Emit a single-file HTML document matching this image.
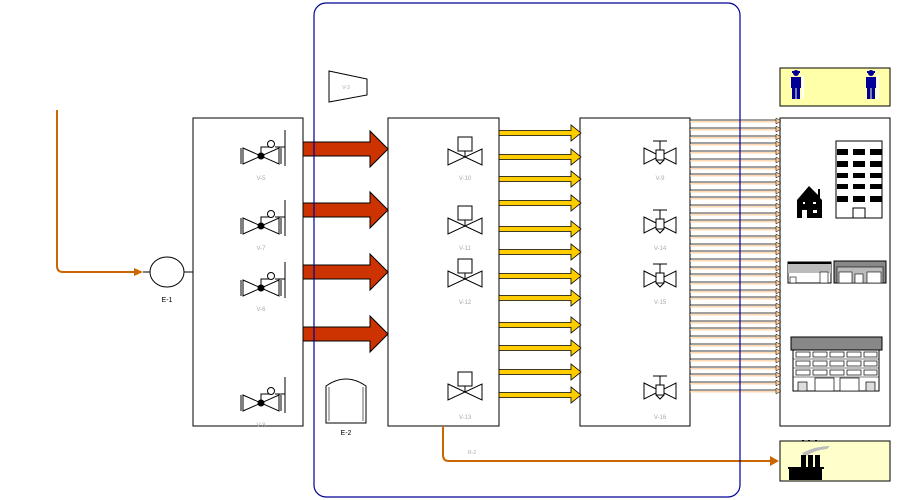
<!DOCTYPE html>
<html><head><meta charset="utf-8"><style>
html,body{margin:0;padding:0;background:#fff;}
svg{display:block;}
text{font-family:"Liberation Sans",sans-serif;}
</style></head><body>
<svg width="908" height="500" viewBox="0 0 908 500" xmlns="http://www.w3.org/2000/svg">
<defs>
  <g id="va">
    <path d="M-18,-8 L18,8 L18,-8 L-18,8 Z" fill="#fff" stroke="#000" stroke-width="1"/>
    <line x1="-20" y1="-8" x2="-20" y2="8" stroke="#000"/>
    <line x1="20" y1="-8" x2="20" y2="8" stroke="#000"/>
    <circle cx="0" cy="0" r="3.5" fill="#000"/>
    <polyline points="0,0 0,-9 10,-9" fill="none" stroke="#000"/>
    <circle cx="10" cy="-12" r="3.5" fill="#fff" stroke="#000"/>
    <line x1="14" y1="-9" x2="24" y2="-9" stroke="#000"/>
    <line x1="24" y1="-26" x2="24" y2="10" stroke="#000"/>
  </g>
  <g id="vb">
    <path d="M-17,-8 L17,8 L17,-8 L-17,8 Z" fill="#fff" stroke="#000"/>
    <line x1="0" y1="0" x2="0" y2="-6" stroke="#000"/>
    <rect x="-7" y="-20" width="14" height="14" fill="#fff" stroke="#000"/>
  </g>
  <g id="vc">
    <path d="M-16,-8 L16,8 L16,-8 L-16,8 Z" fill="#fff" stroke="#000"/>
    <rect x="-4" y="-6" width="8" height="10" fill="#fff" stroke="#000"/>
    <path d="M-4,4 L0,8 L4,4" fill="none" stroke="#000"/>
    <line x1="0" y1="-6" x2="0" y2="-15" stroke="#000"/>
    <line x1="-7" y1="-15" x2="7" y2="-15" stroke="#000"/>
  </g>
  <g id="ra">
    <path d="M303,-7 L370,-7 L370,-18 L388,0 L370,18 L370,7 L303,7 Z" fill="#cc3300" stroke="#000"/>
  </g>
  <g id="ya">
    <path d="M499,-2.5 L571,-2.5 L571,-8 L581,0 L571,8 L571,2.5 L499,2.5 Z" fill="#ffcc00" stroke="#000" stroke-width="0.8"/>
  </g>
  <g id="pl">
    <line x1="690" y1="0" x2="778" y2="0" stroke="#000" stroke-width="0.8"/>
    <line x1="690" y1="1.8" x2="778" y2="1.8" stroke="#ffcc99" stroke-width="1.2"/>
    <path d="M776,-2 L781,1 L776,4 Z" fill="#ffcc99" stroke="#000" stroke-width="0.5"/>
  </g>
  <g id="person">
    <circle cx="0" cy="-16" r="3" fill="#000099"/>
    <rect x="-4" y="-18" width="8" height="2" fill="#000099"/>
    <rect x="-5" y="-12" width="10" height="11" fill="#000099"/>
    <rect x="-4" y="-1" width="3.5" height="11" fill="#000099"/>
    <rect x="0.5" y="-1" width="3.5" height="11" fill="#000099"/>
    <rect x="6" y="-14" width="2" height="24" fill="#fff"/>
  </g>
</defs>

<!-- left orange feed -->
<path d="M57,110 L57,266 Q57,272 63,272 L136,272" fill="none" stroke="#cc6600" stroke-width="2"/>
<path d="M134,268 L143,272 L134,276 Z" fill="#cc6600"/>
<line x1="143" y1="272" x2="150" y2="272" stroke="#000"/>
<ellipse cx="167" cy="272" rx="17" ry="15" fill="#fff" stroke="#000"/>
<line x1="184" y1="272" x2="193" y2="272" stroke="#000"/>
<text x="167" y="302" font-size="7" text-anchor="middle" fill="#000">E-1</text>

<!-- boxes -->
<rect x="193" y="118" width="110" height="308" fill="#fff" stroke="#000"/>
<rect x="388" y="118" width="111" height="308" fill="#fff" stroke="#000"/>
<rect x="580" y="118" width="110" height="308" fill="#fff" stroke="#000"/>
<rect x="780" y="118" width="110" height="308" fill="#fff" stroke="#000"/>
<rect x="780" y="68" width="110" height="38" fill="#ffffaa" stroke="#000"/>
<rect x="780" y="441" width="110" height="40" fill="#ffffcc" stroke="#000"/>

<!-- red arrows -->
<use href="#ra" transform="translate(0,149)"/>
<use href="#ra" transform="translate(0,210)"/>
<use href="#ra" transform="translate(0,272)"/>
<use href="#ra" transform="translate(0,334)"/>

<!-- valves box A -->
<use href="#va" transform="translate(261,156)"/>
<use href="#va" transform="translate(261,226)"/>
<use href="#va" transform="translate(261,288)"/>
<use href="#va" transform="translate(261,403)"/>
<g font-size="6" fill="#aaa" text-anchor="middle">
<text x="261" y="180">V-5</text><text x="261" y="250">V-7</text><text x="261" y="311">V-6</text><text x="261" y="427">V-8</text>
</g>

<!-- V-3 -->
<path d="M329,71 L367,79 L367,95 L329,102 Z" fill="#fff" stroke="#000"/>
<text x="346" y="89" font-size="5" fill="#aaa" text-anchor="middle">V-3</text>

<!-- E-2 tank -->
<path d="M326,423 L326,386 Q346,372 366,386 L366,423 Z" fill="#fff" stroke="#000"/>
<line x1="329" y1="387" x2="329" y2="421" stroke="#000" stroke-width="0.6"/>
<line x1="363" y1="387" x2="363" y2="421" stroke="#000" stroke-width="0.6"/>
<text x="346" y="435" font-size="7" text-anchor="middle" fill="#000">E-2</text>

<!-- valves box B -->
<use href="#vb" transform="translate(465,157)"/>
<use href="#vb" transform="translate(465,226)"/>
<use href="#vb" transform="translate(465,279)"/>
<use href="#vb" transform="translate(465,392)"/>
<g font-size="6" fill="#aaa" text-anchor="middle">
<text x="465" y="180">V-10</text><text x="465" y="250">V-11</text><text x="465" y="304">V-12</text><text x="465" y="419">V-13</text>
</g>

<!-- yellow arrows -->
<use href="#ya" transform="translate(0,133)"/>
<use href="#ya" transform="translate(0,157)"/>
<use href="#ya" transform="translate(0,179)"/>
<use href="#ya" transform="translate(0,203)"/>
<use href="#ya" transform="translate(0,229)"/>
<use href="#ya" transform="translate(0,252)"/>
<use href="#ya" transform="translate(0,276)"/>
<use href="#ya" transform="translate(0,298)"/>
<use href="#ya" transform="translate(0,325)"/>
<use href="#ya" transform="translate(0,348)"/>
<use href="#ya" transform="translate(0,372)"/>
<use href="#ya" transform="translate(0,395)"/>

<!-- valves box C -->
<use href="#vc" transform="translate(660,156)"/>
<use href="#vc" transform="translate(660,225)"/>
<use href="#vc" transform="translate(660,279)"/>
<use href="#vc" transform="translate(660,391)"/>
<g font-size="6" fill="#aaa" text-anchor="middle">
<text x="660" y="180">V-9</text><text x="660" y="250">V-14</text><text x="660" y="304">V-15</text><text x="660" y="419">V-16</text>
</g>

<!-- thin line bundle -->
<use href="#pl" transform="translate(0,120)"/><use href="#pl" transform="translate(0,128)"/>
<use href="#pl" transform="translate(0,136)"/><use href="#pl" transform="translate(0,143)"/>
<use href="#pl" transform="translate(0,151)"/><use href="#pl" transform="translate(0,159)"/>
<use href="#pl" transform="translate(0,167)"/><use href="#pl" transform="translate(0,174)"/>
<use href="#pl" transform="translate(0,182)"/><use href="#pl" transform="translate(0,190)"/>
<use href="#pl" transform="translate(0,197)"/><use href="#pl" transform="translate(0,205)"/>
<use href="#pl" transform="translate(0,213)"/><use href="#pl" transform="translate(0,220)"/>
<use href="#pl" transform="translate(0,228)"/><use href="#pl" transform="translate(0,236)"/>
<use href="#pl" transform="translate(0,244)"/><use href="#pl" transform="translate(0,251)"/>
<use href="#pl" transform="translate(0,259)"/><use href="#pl" transform="translate(0,267)"/>
<use href="#pl" transform="translate(0,274)"/><use href="#pl" transform="translate(0,282)"/>
<use href="#pl" transform="translate(0,290)"/><use href="#pl" transform="translate(0,297)"/>
<use href="#pl" transform="translate(0,305)"/><use href="#pl" transform="translate(0,313)"/>
<use href="#pl" transform="translate(0,321)"/><use href="#pl" transform="translate(0,328)"/>
<use href="#pl" transform="translate(0,336)"/><use href="#pl" transform="translate(0,344)"/>
<use href="#pl" transform="translate(0,351)"/><use href="#pl" transform="translate(0,359)"/>
<use href="#pl" transform="translate(0,367)"/><use href="#pl" transform="translate(0,374)"/>
<use href="#pl" transform="translate(0,382)"/><use href="#pl" transform="translate(0,390)"/>

<!-- bottom orange line -->
<path d="M443,426 L443,455 Q443,461 449,461 L772,461" fill="none" stroke="#cc6600" stroke-width="2"/>
<path d="M770,456 L779,461 L770,466 Z" fill="#cc6600"/>
<text x="472" y="454" font-size="5" fill="#aaa" text-anchor="middle">R-2</text>

<!-- blue rounded boundary (on top) -->
<rect x="314" y="3" width="426" height="494" rx="12" ry="12" fill="none" stroke="#000099" stroke-width="1.2"/>

<!-- persons -->
<use href="#person" transform="translate(796,89)"/>
<use href="#person" transform="translate(871,89)"/>

<!-- tower -->
<rect x="836" y="141" width="46" height="77" fill="#fff" stroke="#000"/>
<g fill="#000">
<rect x="837" y="149" width="11" height="6"/><rect x="853" y="149" width="12" height="6"/><rect x="870" y="149" width="12" height="6"/>
<rect x="837" y="161" width="11" height="6"/><rect x="853" y="161" width="12" height="6"/><rect x="870" y="161" width="12" height="6"/>
<rect x="837" y="173" width="11" height="5"/><rect x="853" y="173" width="12" height="5"/><rect x="870" y="173" width="12" height="5"/>
<rect x="837" y="184" width="11" height="5"/><rect x="853" y="184" width="12" height="5"/><rect x="870" y="184" width="12" height="5"/>
<rect x="837" y="196" width="11" height="6"/><rect x="853" y="196" width="12" height="6"/><rect x="870" y="196" width="12" height="6"/>
</g>
<rect x="853" y="208" width="12" height="10" fill="#fff" stroke="#000"/>

<!-- house -->
<path d="M797,200 L809,186 L818,195 L818,189 L820,189 L820,198 L822,200 L822,218 L797,218 Z" fill="#000"/>
<rect x="802" y="210" width="5" height="8" fill="#fff"/>
<rect x="803" y="202" width="2" height="2" fill="#fff"/><rect x="813" y="202" width="3" height="2" fill="#fff"/>
<rect x="813" y="210" width="4" height="3" fill="#fff"/>

<!-- stores -->
<rect x="788" y="262" width="43" height="21" fill="#fff" stroke="#000"/>
<rect x="788" y="262" width="43" height="2" fill="#000"/>
<rect x="788" y="264" width="43" height="9" fill="#bbb"/>
<rect x="790" y="277" width="6" height="6" fill="#fff" stroke="#000" stroke-width="0.6"/>
<rect x="820" y="272" width="8" height="11" fill="#fff" stroke="#000" stroke-width="0.6"/>
<rect x="834" y="261" width="52" height="22" fill="#888" stroke="#000"/>
<rect x="837" y="267" width="46" height="16" fill="#bbb" stroke="#000" stroke-width="0.6"/>
<rect x="839" y="272" width="13" height="11" fill="#fff" stroke="#000" stroke-width="0.6"/>
<rect x="855" y="274" width="8" height="9" fill="#fff" stroke="#000" stroke-width="0.6"/>
<rect x="867" y="272" width="14" height="11" fill="#fff" stroke="#000" stroke-width="0.6"/>

<!-- big building -->
<rect x="791" y="337" width="91" height="13" fill="#888" stroke="#000"/>
<rect x="793" y="350" width="86" height="41" fill="#fff" stroke="#000"/>
<g fill="#fff" stroke="#000" stroke-width="0.7">
<rect x="796" y="352" width="14" height="5"/><rect x="813" y="352" width="14" height="5"/><rect x="830" y="352" width="14" height="5"/><rect x="847" y="352" width="14" height="5"/><rect x="864" y="352" width="13" height="5"/>
<rect x="796" y="361" width="14" height="5"/><rect x="813" y="361" width="14" height="5"/><rect x="830" y="361" width="14" height="5"/><rect x="847" y="361" width="14" height="5"/><rect x="864" y="361" width="13" height="5"/>
<rect x="796" y="370" width="14" height="5"/><rect x="813" y="370" width="14" height="5"/><rect x="830" y="370" width="14" height="5"/><rect x="847" y="370" width="14" height="5"/><rect x="864" y="370" width="13" height="5"/>
<rect x="798" y="382" width="9" height="9" fill="#ddd"/><rect x="815" y="378" width="19" height="13"/><rect x="840" y="378" width="19" height="13"/><rect x="866" y="382" width="9" height="9" fill="#ddd"/>
</g>
<line x1="793" y1="359" x2="879" y2="359" stroke="#000" stroke-width="0.6"/>
<line x1="793" y1="368" x2="879" y2="368" stroke="#000" stroke-width="0.6"/>
<line x1="793" y1="377" x2="879" y2="377" stroke="#000" stroke-width="0.6"/>

<!-- factory -->
<path d="M802,453 Q816,446 830,446 L827,449 Q814,450 805,457 Z" fill="#bbb"/>
<rect x="802" y="440" width="2" height="1.5" fill="#000"/><rect x="808" y="440" width="2" height="1.5" fill="#000"/><rect x="815" y="440" width="2" height="1.5" fill="#000"/>
<rect x="801" y="455" width="5" height="13" fill="#000"/>
<rect x="808" y="455" width="5" height="13" fill="#000"/>
<rect x="815" y="455" width="5" height="13" fill="#000"/>
<rect x="788" y="467" width="36" height="2" fill="#000"/>
<rect x="789" y="469" width="33" height="11" fill="#000"/>
</svg>
</body></html>
